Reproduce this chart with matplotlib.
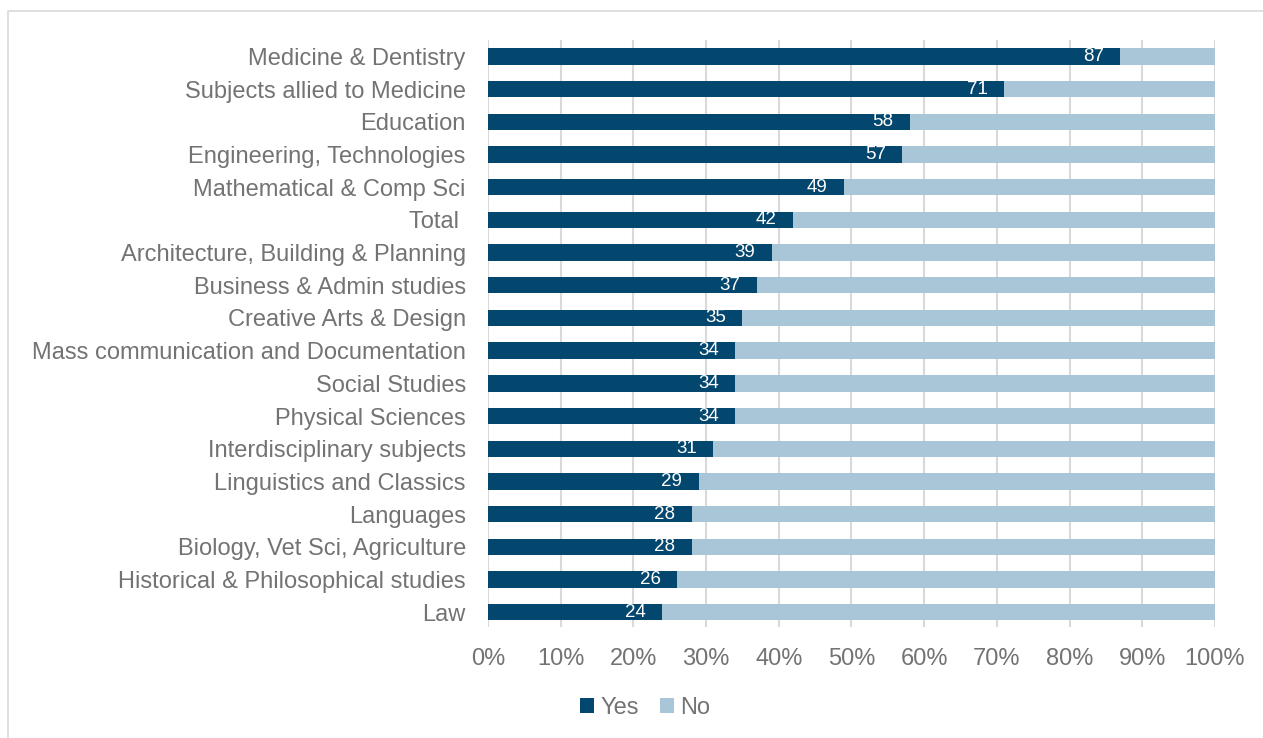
import matplotlib
matplotlib.use("Agg")
import matplotlib.pyplot as plt
from matplotlib.patches import Rectangle
import numpy as np

categories = [
    "Medicine & Dentistry",
    "Subjects allied to Medicine",
    "Education",
    "Engineering, Technologies",
    "Mathematical & Comp Sci",
    "Total ",
    "Architecture, Building & Planning",
    "Business & Admin studies",
    "Creative Arts & Design",
    "Mass communication and Documentation",
    "Social Studies",
    "Physical Sciences",
    "Interdisciplinary subjects",
    "Linguistics and Classics",
    "Languages",
    "Biology, Vet Sci, Agriculture",
    "Historical & Philosophical studies",
    "Law",
]
yes_values = [87, 71, 58, 57, 49, 42, 39, 37, 35, 34, 34, 34, 31, 29, 28, 28, 26, 24]
no_values = [100 - v for v in yes_values]
xtick_values = list(range(0, 101, 10))
xtick_labels = [f"{v}%" for v in xtick_values]

YES_COLOR = "#03466e"
NO_COLOR = "#a9c6d9"
TEXT_COLOR = "#737373"

plt.rcParams["font.family"] = ["Liberation Sans", "DejaVu Sans"]

fig = plt.figure(figsize=(12.63, 7.38), dpi=100)
ax = fig.add_axes([488 / 1263, 1 - 627 / 738, (1215 - 488) / 1263, (627 - 40) / 738])

y = np.arange(len(categories))
ax.barh(y, yes_values, height=0.5, color=YES_COLOR, label="Yes", zorder=3)
ax.barh(y, no_values, left=yes_values, height=0.5, color=NO_COLOR, label="No", zorder=3)

for yi, v in zip(y, yes_values):
    ax.text(v - 3.7, yi, f"{v}", ha="center", va="center", color="white",
            fontsize=13.5, zorder=4)

ax.set_xlim(0, 100)
ax.set_ylim(len(categories) - 0.55, -0.5)
ax.set_yticks(y)
ax.set_yticklabels(categories, fontsize=17, color=TEXT_COLOR)
ax.set_xticks(xtick_values)
ax.set_xticklabels(xtick_labels, fontsize=17, color=TEXT_COLOR)
ax.tick_params(axis="both", length=0)
ax.tick_params(axis="y", pad=16)
ax.tick_params(axis="x", pad=15)
ax.xaxis.grid(True, color="#d9d9d9", linewidth=1.5, zorder=0)
ax.set_axisbelow(True)
for s in ax.spines.values():
    s.set_visible(False)

leg = fig.legend(loc="center", bbox_to_anchor=(645 / 1263, 1 - 708 / 738), ncol=2,
                 frameon=False, fontsize=17, handlelength=0.6, handleheight=0.6,
                 handletextpad=0.25, columnspacing=0.9)
for t in leg.get_texts():
    t.set_color(TEXT_COLOR)

fig.patches.append(Rectangle((8 / 1263, -0.05), 1.1, 1 - 11 / 738 + 0.05,
                             transform=fig.transFigure, fill=False,
                             edgecolor="#d9d9d9", linewidth=1.2))

fig.savefig("out.png", dpi=100)
